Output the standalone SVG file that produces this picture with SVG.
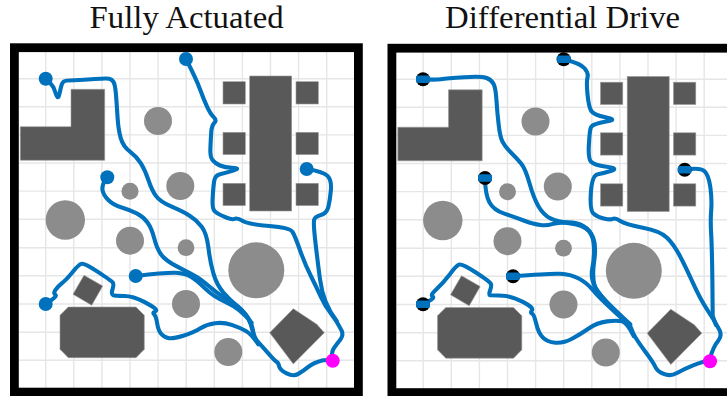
<svg xmlns="http://www.w3.org/2000/svg" xmlns:xlink="http://www.w3.org/1999/xlink" width="727" height="396" viewBox="0 0 727 396">
<style>
.title{font-family:"Liberation Serif","Times New Roman",serif;font-size:31px;fill:#111;text-anchor:middle}
.grid{stroke:#e6e6e6;stroke-width:1.4;fill:none}
.obs{fill:#595959;stroke:#9a9a9a;stroke-width:.6}
.cir{fill:#8c8c8c}
.path{fill:none;stroke:#0072bd;stroke-width:4.1;stroke-linejoin:round;stroke-linecap:round}
.start{fill:#0072bd}
.goal{fill:#ff00ff}
.frame{fill:none;stroke:#000;stroke-width:8.8}
</style>
<defs>
<g id="map">
<rect x="14" y="48" width="345" height="348" fill="#fff"/>
<path class="grid" d="M45.7 52V388M73.8 52V388M101.9 52V388M130 52V388M158.1 52V388M186.2 52V388M214.3 52V388M242.4 52V388M270.5 52V388M298.6 52V388M326.7 52V388M19 78.7H354M19 106.8H354M19 134.9H354M19 163H354M19 191.1H354M19 219.2H354M19 247.7H354M19 275.8H354M19 304H354M19 332.2H354M19 360.3H354"/>
<polygon class="obs" points="20.3,126.7 71,126.7 71,89.3 104.7,89.3 104.7,160.3 20.3,160.3"/>
<rect class="obs" x="249.7" y="76" width="42" height="135"/>
<rect class="obs" x="223" y="81.7" width="22.3" height="22.3"/>
<rect class="obs" x="223" y="132.3" width="22.3" height="22.3"/>
<rect class="obs" x="223" y="183.3" width="22.3" height="22.3"/>
<rect class="obs" x="296" y="81.7" width="22.3" height="22.3"/>
<rect class="obs" x="296" y="132.3" width="22.3" height="22.3"/>
<rect class="obs" x="296" y="183.3" width="22.3" height="22.3"/>
<polygon class="obs" points="84,275.3 102.7,286 91.7,305.3 73,294.3"/>
<polygon class="obs" points="68.3,307 136,307 144.3,315.3 144.3,349.3 136,357.7 68.3,357.7 60,349.3 60,315.3"/>
<polygon class="obs" points="293.3,308.7 316.8,324.3 324.3,332.7 293.3,364 269.7,332.7"/>
<circle class="cir" cx="158" cy="121" r="14"/>
<circle class="cir" cx="130" cy="191.3" r="8.5"/>
<circle class="cir" cx="180.3" cy="186" r="14"/>
<circle class="cir" cx="65.3" cy="220" r="19.7"/>
<circle class="cir" cx="130" cy="240.7" r="14"/>
<circle class="cir" cx="186" cy="247.7" r="8.4"/>
<circle class="cir" cx="186" cy="304" r="14"/>
<circle class="cir" cx="256.3" cy="270.3" r="28"/>
<circle class="cir" cx="228.3" cy="352" r="14"/>
<rect class="frame" x="14.4" y="47.7" width="344" height="344.4"/>
</g>
<g id="diff-start">
<circle r="7" fill="#000"/>
<rect x="-7" y="-3.8" width="14" height="7.6" rx="2" class="start"/>
</g>
</defs>
<text class="title" x="186.6" y="28" textLength="194" lengthAdjust="spacingAndGlyphs">Fully Actuated</text>
<text class="title" x="562.6" y="28" textLength="235" lengthAdjust="spacingAndGlyphs">Differential Drive</text>
<use id="map-left" xlink:href="#map" href="#map"/>
<use id="map-right" xlink:href="#map" href="#map" transform="translate(377.5 0.5)"/>
<g id="connectors">
<path class="path" d="M45.7 78.7Q52.7 85 53.9 88.4Q55 91.7 56.5 95.4Q58 99 59 95.4Q60 91.7 60.9 87.5Q61.7 83.3 63.4 81.8Q65 80.3 74.2 80.2Q83.3 80 95 79Q106.7 78 109.2 78.7Q111.7 79.3 113.4 81.7Q115 84 115.9 93.7Q116.7 103.3 117.5 116.7Q118.3 130 120.8 138.4Q123.3 146.7 130 151.7Q136.7 156.7 140.9 163.4Q145 170 148.4 180Q151.7 190 155.9 195.9Q160 201.7 171.7 206.7Q183.3 211.7 190 215.9Q196.7 220 201.7 226.7Q206.7 233.3 208.4 247.5Q210 261.7 213.4 273.4Q216.7 285 223.4 292.5Q230 300 236.7 305.5Q243.3 311 247.5 316.9Q251.7 322.7 252.9 330.2Q254 337.7 258.7 342.7Q263.3 347.7 269.2 354.4Q275 361 276.7 361.9Q278.3 362.7 279.2 366.4Q280 370 286.7 373.4Q293.3 376.7 298.3 373.9Q303.3 371 308.3 366.9Q313.3 362.7 323 360.2L332.7 360"/>
<path class="path" d="M186 59Q196.7 80 200 89.2Q203.3 98.3 206.7 105.8Q210 113.3 213.5 116.9Q217 120.5 214.4 122.8Q211.7 125 211.2 132.5Q210.7 140 210.4 148.4Q210 156.7 212.5 160Q215 163.3 220 165.5Q225 167.7 232 167.8Q241 168 233.9 170.4Q226.7 172.7 220.9 173.9Q215 175 214.2 180.9Q213.3 186.7 212.7 197.5Q212 208.3 214.4 210.8Q216.7 213.3 224.2 216.7Q231.7 220 234.5 218.9Q237.3 217.7 242.8 221Q248.3 224.3 269.2 226Q290 227.7 292.5 231.9Q295 236 300 250.2Q305 264.3 310.9 276Q316.7 287.7 320.9 296.9Q325 306 330.9 313.5Q336.7 321 340 327.7Q344.5 334.3 340.6 339.3Q336.7 344.3 334.2 347.7Q331.7 351 331.7 358"/>
<path class="path" d="M306.7 169Q323.3 171.7 327.5 175.9Q331.7 180 330.9 190Q330 200 328.4 206.7Q326.7 213.3 320.9 215Q315 216.7 314.2 219.7Q313.3 222.7 315 238.5Q316.7 254.3 320 279.3Q323.3 304.3 336.7 321"/>
<path class="path" d="M106.7 177.7Q101.7 185 102.5 190Q103.3 195 108.3 200Q113.3 205 121.7 207.5Q130 210 136.7 213.4Q143.3 216.7 147.5 222.5Q151.7 228.3 154.2 238.3Q156.7 248.3 160.9 254.2Q165 260 175.9 265.9Q186.7 271.7 193.4 275Q200 278.3 208.4 285.8Q216.7 293.3 228.4 300Q240 306.7 245.9 314.7Q251.7 322.7 254 337.7"/>
<path class="path" d="M135.7 276Q166.7 272.3 175.9 272.8Q185 273.3 190.9 276.7Q196.7 280 205 288.4Q213.3 296.7 226.7 302.5Q240 308.3 251.7 322.7"/>
<path class="path" d="M45.7 304L51.5 300Q57.3 296 55.3 294.7Q53.3 293.3 55.3 290.2Q57.3 287 62 283.2Q66.7 279.3 72.5 272.2Q78.3 265 81.2 263.9Q84 262.7 97.9 271.9Q111.7 281 112.9 282.7Q114 284.3 112.5 289.3Q111 294.3 113 295.2Q115 296 124.2 296Q133.3 296 144.2 301.9Q155 307.7 155.9 309.4Q156.7 311 154.5 311.9Q152.3 312.7 154.2 314.4Q156 316 157.2 323.5Q158.3 331 161.7 334.4Q165 337.7 169.2 338.2Q173.3 338.7 183.3 335.7Q193.3 332.7 200 328.5Q206.7 324.3 215 323.2Q223.3 322 231.7 324.9Q240 327.7 245.9 331Q251.7 334.3 258.3 344.3"/>
<path class="path" d="M423 79.3Q435 80 440.9 79.2Q446.7 78.3 464.2 77.2Q481.7 76 486.7 78Q491.7 80 493.7 84.2Q495.7 88.3 496.5 100.8Q497.3 113.3 498.7 125Q500 136.7 502.5 141.7Q505 146.7 510.9 152.5Q516.7 158.3 521 163.3Q525.3 168.3 529.5 183.3Q533.7 198.3 538.7 206.7Q543.7 215 550.4 218.4Q557 221.7 570.4 223.4Q583.7 225 588.7 230.9Q593.7 236.7 594 247.5Q594.3 258.3 592.3 268.3Q590.3 278.3 595.3 287.5Q600.3 296.7 615.3 310.5Q630.3 324.3 632 330.2Q633.7 336 643.7 349.4Q653.7 362.7 655.4 366.9Q657 371 663.7 373.9Q670.3 376.7 677 373Q683.7 369.3 693.7 365.2Q703.7 361 710 361"/>
<path class="path" d="M485 178Q485.3 195 489.5 202.5Q493.7 210 503.7 213.4Q513.7 216.7 523.7 220.5Q533.7 224.3 540.4 225Q547 225.7 552 224.1Q557 222.5 567 222.4Q577 222.3 583.7 226.2Q590.3 230 593.3 238Q596.3 246 594.2 261Q592 276 594.5 285.2Q597 294.3 630.3 324.3"/>
<path class="path" d="M513 276.3Q550.3 273.3 560.3 273.8Q570.3 274.3 578.7 278.5Q587 282.7 593.7 291Q600.3 299.3 630.3 326"/>
<path class="path" d="M563.7 59.3Q580.3 63.3 584.5 68.3Q588.7 73.3 587.5 77.5Q586.3 81.7 587.5 94.2Q588.7 106.7 591.2 110.9Q593.7 115 605.4 117.3Q617 119.5 608.7 121.1Q600.3 122.7 596.2 123.9Q592 125 590.9 127.5Q589.7 130 588.9 144.2Q588 158.3 590.9 161.7Q593.7 165 606.4 166.7Q619 168.3 611.4 170.8Q603.7 173.3 597.9 174.2Q592 175 590.9 192.5Q589.7 210 593.4 213.4Q597 216.7 603.7 218.4Q610.3 220 612.8 218.9Q615.3 217.7 620.3 221Q625.3 224.3 642.8 227.7Q660.3 231 667 237.7Q673.7 244.3 679.5 255.2Q685.3 266 692.8 282.7Q700.3 299.3 707 309.3Q713.7 319.3 717.9 327.2Q723 335 718.4 340.5Q713.7 346 710 358"/>
<path class="path" d="M684.7 169.7Q700.3 167.3 704.5 171.2Q708.7 175 710.4 187.5Q712 200 711.2 210Q710.3 220 711.2 234.7Q712 249.3 712.4 282.7L712.7 316L716 325"/>
<path class="path" d="M423 304.3L429 301Q435 297.7 432.5 296.4Q430 295 436.7 288.9Q443.3 282.7 449.7 274.4Q456 266 458.9 264.7Q461.7 263.3 475.9 272.5Q490 281.7 490.9 283.9Q491.7 286 490 290.7Q488.3 295.3 490.8 295.3Q493.3 295.3 502.5 295.7Q511.7 296 522.9 301.9Q534 307.7 532 310.2Q530 312.7 532 313.5Q534 314.3 536.2 323.5Q538.3 332.7 542.7 337.4Q547 342 555.4 342.7Q563.7 343.3 572 338.8Q580.3 334.3 588.7 328.5Q597 322.7 607 321.4Q617 320 622 321.4Q627 322.7 633.7 336"/>
</g>
<g id="start-fa-1"><circle class="start" cx="45.7" cy="78.7" r="7"/></g>
<g id="start-fa-2"><circle class="start" cx="186" cy="59" r="7"/></g>
<g id="start-fa-3"><circle class="start" cx="107.3" cy="177.3" r="7"/></g>
<g id="start-fa-4"><circle class="start" cx="306.7" cy="169" r="7"/></g>
<g id="start-fa-5"><circle class="start" cx="135.7" cy="276" r="7"/></g>
<g id="start-fa-6"><circle class="start" cx="45.7" cy="304" r="7"/></g>
<g id="goal-fa"><circle class="goal" cx="332.7" cy="360.7" r="7"/></g>
<g id="start-dd-1"><use xlink:href="#diff-start" href="#diff-start" x="423" y="79.3"/></g>
<g id="start-dd-2"><use xlink:href="#diff-start" href="#diff-start" x="563.7" y="59.3"/></g>
<g id="start-dd-3"><use xlink:href="#diff-start" href="#diff-start" x="485" y="178"/></g>
<g id="start-dd-4"><use xlink:href="#diff-start" href="#diff-start" x="684.7" y="169.7"/></g>
<g id="start-dd-5"><use xlink:href="#diff-start" href="#diff-start" x="513" y="276.3"/></g>
<g id="start-dd-6"><use xlink:href="#diff-start" href="#diff-start" x="423" y="304.3"/></g>
<g id="goal-dd"><circle class="goal" cx="710" cy="361.3" r="7"/></g>
</svg>
